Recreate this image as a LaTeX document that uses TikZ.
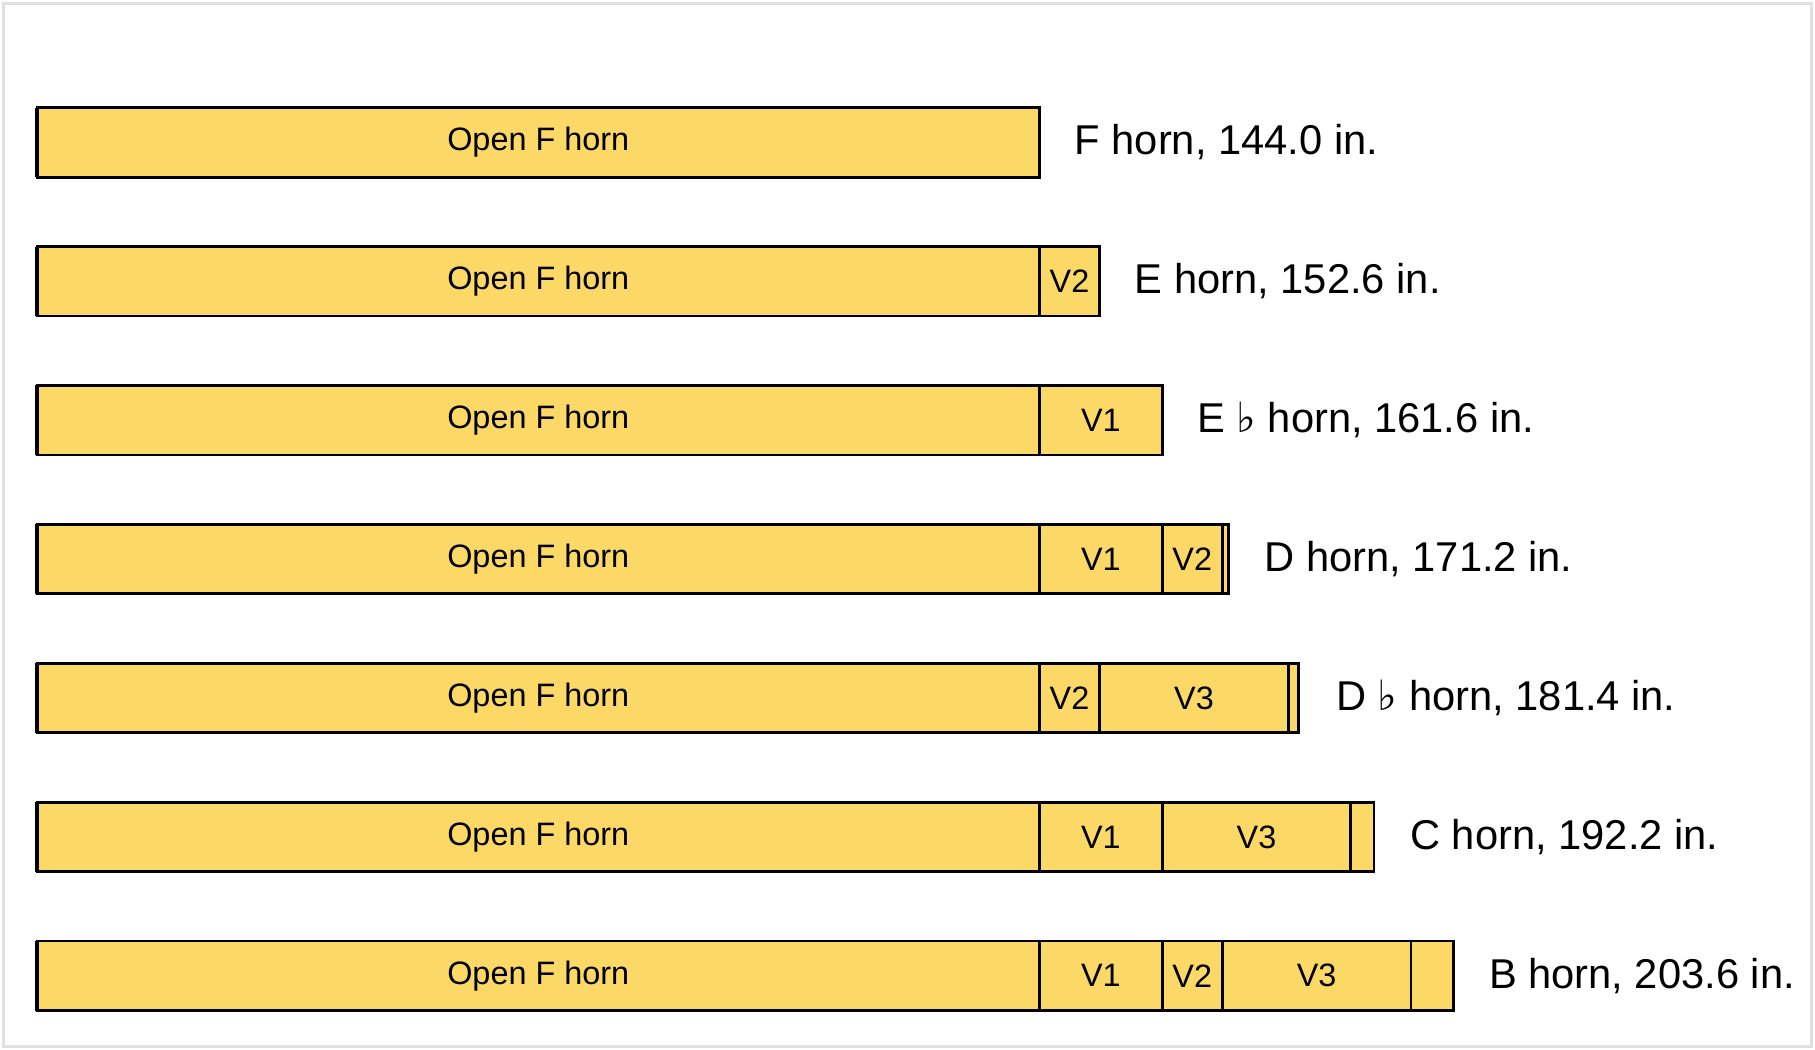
\documentclass[tikz,border=0pt]{standalone}
\usepackage{fontspec}
\setmainfont{Liberation Sans}
\newfontfamily\symfont{DejaVu Sans}
\definecolor{barfill}{HTML}{FCD866}
\tikzset{
  seg/.style={draw=black, line width=1.2pt, fill=barfill},
  segtext/.style={font=\fontsize{14}{16}\selectfont},
  lab/.style={anchor=west, font=\fontsize{18}{20}\selectfont, inner sep=0pt}
}
\newcommand{\flatsym}{{\symfont ♭}}
\begin{document}
\begin{tikzpicture}[x=0.5pt,y=-0.5pt]
\useasboundingbox (0,0) rectangle (1568,907);
\draw[draw=black!12, line width=1pt] (3,3) rectangle (1565,904);
% row helper: \seg{x1}{x2}{y}{text}{name}
\newcommand{\hseg}[5]{%
  \draw[seg] (#1,#3) rectangle (#2,#3+60);
  \node[segtext] (#5) at ({(#1+#2)/2},#3+30) {#4};}
\newcommand{\leftedge}[1]{\draw[line width=2pt] (32,#1) -- (32,#1+60);}
% row 1
\hseg{32}{898}{93}{Open F horn}{r1o}\leftedge{93}
\node[lab] (r1l) at (928,123) {F horn, 144.0 in.};
% row 2
\hseg{32}{898}{213}{Open F horn}{r2o}\hseg{898}{950}{213}{V2}{r2a}\leftedge{213}
\node[lab] (r2l) at (980,243) {E horn, 152.6 in.};
% row 3
\hseg{32}{898}{333}{Open F horn}{r3o}\hseg{898}{1004}{333}{V1}{r3a}\leftedge{333}
\node[lab] (r3l) at (1034,363) {E \flatsym\ horn, 161.6 in.};
% row 4
\hseg{32}{898}{453}{Open F horn}{r4o}\hseg{898}{1004}{453}{V1}{r4a}\hseg{1004}{1056}{453}{V2}{r4b}\hseg{1056}{1061}{453}{}{r4c}\leftedge{453}
\node[lab] (r4l) at (1092,483) {D horn, 171.2 in.};
% row 5
\hseg{32}{898}{573}{Open F horn}{r5o}\hseg{898}{950}{573}{V2}{r5a}\hseg{950}{1113}{573}{V3}{r5b}\hseg{1113}{1122}{573}{}{r5c}\leftedge{573}
\node[lab] (r5l) at (1154,603) {D \flatsym\ horn, 181.4 in.};
% row 6
\hseg{32}{898}{693}{Open F horn}{r6o}\hseg{898}{1004}{693}{V1}{r6a}\hseg{1004}{1167}{693}{V3}{r6b}\hseg{1167}{1187}{693}{}{r6c}\leftedge{693}
\node[lab] (r6l) at (1218,723) {C horn, 192.2 in.};
% row 7
\hseg{32}{898}{813}{Open F horn}{r7o}\hseg{898}{1004}{813}{V1}{r7a}\hseg{1004}{1056}{813}{V2}{r7b}\hseg{1056}{1219}{813}{V3}{r7c}\hseg{1219}{1256}{813}{}{r7d}\leftedge{813}
\node[lab] (r7l) at (1286,843) {B horn, 203.6 in.};
\end{tikzpicture}
\end{document}
